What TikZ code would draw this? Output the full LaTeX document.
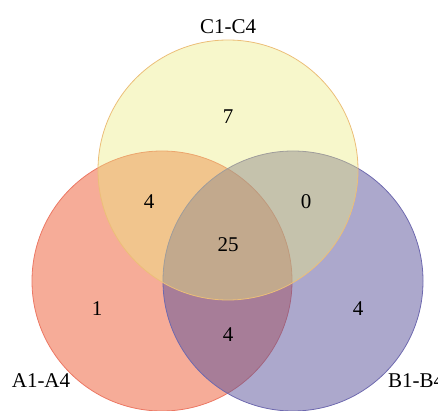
\documentclass[tikz,border=0pt]{standalone}
\usepackage{fontspec}
\setmainfont{Liberation Serif}
\definecolor{abase}{RGB}{237,89,49}
\definecolor{bbase}{RGB}{89,81,153}
\definecolor{cbase}{RGB}{235,235,125}
\definecolor{aline}{RGB}{236,120,100}
\definecolor{bline}{RGB}{110,105,175}
\definecolor{cline}{RGB}{236,190,120}
\begin{document}
\begin{tikzpicture}[x=1pt,y=-1pt,
  setcircle/.style={circle,minimum size=260pt,inner sep=0pt,fill opacity=0.5,line width=0.8pt},
  lab/.style={font=\fontsize{21}{24}\selectfont,inner sep=0pt},
  num/.style={font=\fontsize{21}{24}\selectfont,inner sep=0pt}]
\useasboundingbox (0,0) rectangle (438,411);
\node[setcircle,fill=abase,draw=aline] (A) at (162,281) {};
\node[setcircle,fill=bbase,draw=bline] (B) at (293,281) {};
\node[setcircle,fill=cbase,draw=cline,fill opacity=0.4] (C) at (228,170) {};
\node[lab] (lc) at (228,27) {C1-C4};
\node[lab] (la) at (41,381) {A1-A4};
\node[lab,anchor=west] (lb) at (388,381) {B1-B4};
\node[num] (n7) at (228,117) {7};
\node[num] (nac) at (149,202) {4};
\node[num] (nbc) at (306,202) {0};
\node[num] (nabc) at (228,245) {25};
\node[num] (na) at (97,309) {1};
\node[num] (nb) at (358,309) {4};
\node[num] (nab) at (228,335) {4};
\end{tikzpicture}
\end{document}
